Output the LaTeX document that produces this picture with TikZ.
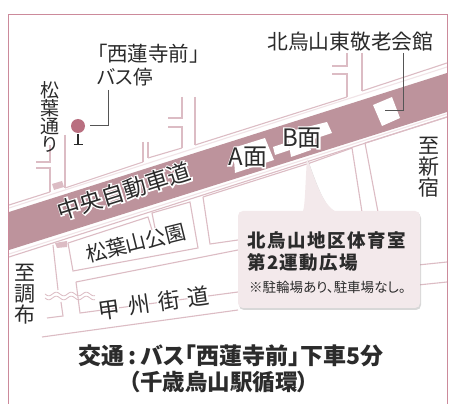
\documentclass[tikz,border=0pt]{standalone}
\usepackage{fontspec}
\setmainfont[RawFeature=+palt]{Noto Sans CJK JP}
\usetikzlibrary{shadows,calc}
\definecolor{bandc}{HTML}{BD939C}
\definecolor{framec}{HTML}{CC8A9B}
\definecolor{streetc}{HTML}{DCBCC4}
\definecolor{calloutc}{HTML}{F3E9EB}
\definecolor{dotc}{HTML}{B96F80}
\definecolor{inkc}{HTML}{2B2B2B}
\tikzset{
  street/.style={draw=streetc,line width=1.1pt},
  leader/.style={draw=inkc!80,line width=0.6pt},
  lab/.style={inner sep=0pt,text=inkc,font=\fontsize{#1}{#1}\selectfont},
  lab/.default=19,
  bldg/.style={fill=white,draw=none},
}
\newcommand{\halotext}[6]{% name, x, y, rotation, size, text
  \node[lab=#5,text=white,rotate=#4] at (#2,#3) {\special{pdf:code 1 Tr 2.6 w 1 1 1 RG}#6\special{pdf:code 0 Tr}};
  \node[lab=#5,rotate=#4] (#1) at (#2,#3) {#6};}
\begin{document}
\begin{tikzpicture}[x=1pt,y=-1pt]
\useasboundingbox (0,0) rectangle (451,404);
\fill[white] (0,0) rectangle (451,404);
% band
\fill[bandc] (9,212) -- (447,73) -- (447,112) -- (9,250) -- cycle;
% road edges
\draw[street] (9,205) -- (50,192);
\draw[street] (65,188) -- (143,162);
\draw[street] (148,158) -- (182,148);
\draw[street] (195,145) -- (347,97);
\draw[street] (362,91) -- (447,63);
\draw[street,white!60!streetc] (9,208) -- (447,67);
\draw[street] (9,257) -- (447,117);
\draw[street,white!60!streetc] (9,254) -- (447,114);
% side streets north
\draw[street] (182,97) -- (182,118) -- (168,118);
\draw[street] (168,127) -- (182,127) -- (182,148);
\draw[street] (143,142) -- (143,162);
\draw[street] (148,142) -- (148,158);
\draw[street] (195,97) -- (195,145);
\draw[street] (65,135) -- (65,188);
\draw[street] (36,162) -- (50,162) -- (50,145);
\draw[street] (36,168) -- (50,168) -- (50,192);
\draw[street] (347,53) -- (347,66) -- (332,66);
\draw[street] (332,74) -- (347,74) -- (347,97);
\draw[street] (362,53) -- (362,91);
% side streets south
\draw[street] (53,245) -- (58,290);
\draw[street] (61,302) -- (63,316) -- (47,318);
\draw[street] (68,243) -- (148,217) -- (152,230);
\draw[street] (68,243) -- (73,271) -- (198,248) -- (190,202) -- (152,213) -- (155,228);
\draw[street] (203,197) -- (210,244) -- (238,240);
\draw[street] (203,197) -- (310,163);
\draw[street] (76,282) -- (238,250);
\draw[street] (76,282) -- (80,313) -- (238,292);
\draw[street] (42,337) -- (238,310);
\draw[street] (310,163) -- (352,148) -- (362,212);
\draw[street] (365,143) -- (378,212);
\draw[street] (365,143) -- (447,117);
\draw[street] (418,265) -- (447,262);
\draw[street] (418,285) -- (447,282);
% bridge marks
\fill[streetc] (52,184) -- (62,181) -- (64,187) -- (54,190) -- cycle;
\fill[streetc] (55,243) -- (67,241) -- (67,247) -- (57,248) -- cycle;
% wave
\foreach \yy in {294,298}
  \draw[street,line width=0.8pt] plot[domain=45:95,samples=60,smooth] (\x,{\yy+1.8*sin(\x*24)});
% buildings
\fill[bldg] (373,105) -- (392,97) -- (400,118) -- (382,126) -- cycle;
\fill[bldg] (233,148) -- (265,138) -- (274,160) -- (235,173) -- cycle;
\fill[bldg] (273,147) -- (288,142) -- (290,150) -- (275,155) -- cycle;
\fill[bldg] (287,132) -- (327,122) -- (332,133) -- (308,141) -- (311,150) -- (291,157) -- cycle;
% callout
\path[fill=calloutc,draw=none,drop shadow={shadow xshift=1pt,shadow yshift=-2pt,opacity=.3,fill=black!50}]
  (243,211) -- (303,211) .. controls (305,206) and (305,190) .. (307,158)
  .. controls (315,180) and (323,205) .. (335,211) -- (415,211)
  .. controls (418,211) and (420,213) .. (420,216) -- (420,303)
  .. controls (420,306) and (418,308) .. (415,308) -- (243,308)
  .. controls (240,308) and (238,306) .. (238,303) -- (238,216)
  .. controls (238,213) and (240,211) .. (243,211) -- cycle;
% frame
\draw[framec,line width=1pt] (8.5,404) -- (8.5,14.5) -- (447,14.5) -- (447,404);
% leaders
\coordinate (stopEnd) at (90,125.5);
\coordinate (hallEnd) at (385,110);
\node[lab=20.5,anchor=west] (stopA) at (97,54) {「西蓮寺前」};
\node[lab=19.5,anchor=west] (stopB) at (97,77) {バス停};
\draw[leader] (108,90) -- (108,125.5) -- (stopEnd);
\node[lab=20.8,anchor=west] (hall) at (267,42) {北烏山東敬老会館};
\draw[leader] (403,53) -- (403,110) -- (hallEnd);
% bus stop
\node[circle,fill=dotc,minimum size=14pt,inner sep=0pt] (dot) at (78,126) {};
\coordinate (stopFoot) at (78,144.5);
\draw[inkc,line width=1.2pt] (78,134) -- (stopFoot) (73.5,144.5) -- (82.5,144.5);
% vertical labels
\node[lab=19,align=center] (matsu) at (50,117) {松\\[-1pt]葉\\[-1pt]通\\[-1pt]り};
\node[lab=21,align=center] (shin) at (429,167) {至\\新\\宿};
\node[lab=21,align=center] (cho) at (25,294) {至\\調\\布};
% road names
\halotext{chuo}{124}{191}{17.5}{23}{中央自動車道}
\node[lab=20.5,rotate=14] (park) at (136,243) {松葉山公園};
\halotext{koshu}{154}{303}{8}{22}{甲\hspace{8pt}州\hspace{8pt}街\hspace{8pt}道}
\halotext{amen}{248}{157}{0}{24}{A面}
\halotext{bmen}{302}{138}{0}{24}{B面}
% callout text
\node[lab=18,anchor=west,font=\fontsize{18.5}{18.5}\selectfont\bfseries] (ttl) at (247,240) {北\hspace{1.5pt}烏\hspace{1.5pt}山\hspace{1.5pt}地\hspace{1.5pt}区\hspace{1.5pt}体\hspace{1.5pt}育\hspace{1.5pt}室};
\node[lab=18,anchor=west,font=\fontsize{18.5}{18.5}\selectfont\bfseries] (ttlb) at (247,262) {第\hspace{1.5pt}2\hspace{1.5pt}運\hspace{1.5pt}動\hspace{1.5pt}広\hspace{1.5pt}場};
\node[lab=13.5,anchor=west] (note) at (249,287) {※駐輪場あり、駐車場なし。};
% bottom
\node[lab=23,font=\fontsize{23}{23}\selectfont\bfseries] (bot) at (231,356) {交通\,:\,バス「西蓮寺前」下車5分};
\node[lab=22.5,font=\fontsize{22.5}{22.5}\selectfont\bfseries] (botb) at (219,382) {（千歳烏山駅循環）};
\end{tikzpicture}
\end{document}
